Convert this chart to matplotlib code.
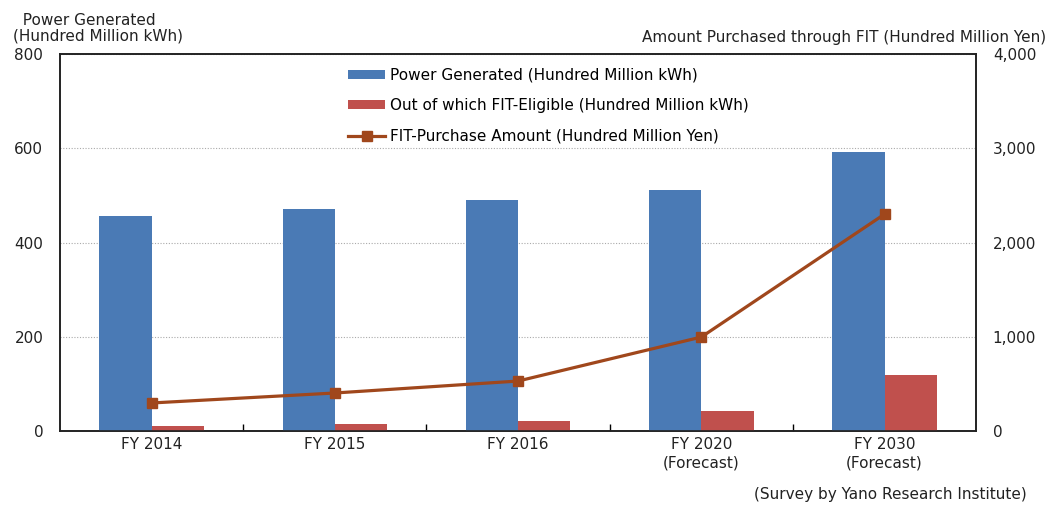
import numpy as np
import matplotlib.pyplot as plt
from matplotlib.ticker import FuncFormatter

categories = ["FY 2014", "FY 2015", "FY 2016", "FY 2020\n(Forecast)", "FY 2030\n(Forecast)"]
power_generated = [456, 471, 490, 512, 592]
fit_eligible = [10, 14, 21, 42, 119]
fit_purchase = [297, 403, 530, 997, 2302]

blue = "#4A7AB5"
red = "#C0504D"
brown = "#A0471C"

plt.rcParams["font.family"] = "DejaVu Sans"
plt.rcParams["font.size"] = 11

fig = plt.figure(figsize=(10.53, 5.07), dpi=100)
ax = fig.add_axes([0.057, 0.150, 0.870, 0.743])
ax2 = ax.twinx()

x = np.arange(len(categories))
w = 0.285
ax.bar(x - w / 2, power_generated, w, color=blue, label="Power Generated (Hundred Million kWh)", zorder=3)
ax.bar(x + w / 2, fit_eligible, w, color=red, label="Out of which FIT-Eligible (Hundred Million kWh)", zorder=3)
ax2.plot(x, fit_purchase, color=brown, lw=2.3, marker="s", markersize=7,
         label="FIT-Purchase Amount (Hundred Million Yen)")

ax.set_xlim(-0.5, len(categories) - 0.5)
ax.set_ylim(0, 800)
ax.set_yticks([0, 200, 400, 600, 800])
ax2.set_ylim(0, 4000)
ax2.set_yticks([0, 1000, 2000, 3000, 4000])
ax2.yaxis.set_major_formatter(FuncFormatter(lambda v, p: f"{int(v):,}"))

ax.grid(axis="y", color="#aaaaaa", linestyle=(0, (1, 1.5)), lw=0.8, zorder=0)
ax.set_xticks(x)
ax.set_xticklabels(categories, color="#222222", linespacing=1.3)
ax.set_xticks(np.arange(0.5, len(categories) - 1, 1), minor=True)
ax.tick_params(axis="x", which="major", length=0, pad=4)
ax.tick_params(axis="x", which="minor", length=5, direction="in", width=1)
ax.tick_params(axis="y", length=0, pad=12, colors="#222222")
ax2.tick_params(axis="y", length=0, pad=12, colors="#222222")

for a in (ax, ax2):
    for s in a.spines.values():
        s.set_linewidth(1.2)
        s.set_color("#222222")

h1, l1 = ax.get_legend_handles_labels()
h2, l2 = ax2.get_legend_handles_labels()
leg = ax.legend(h1 + h2, l1 + l2, loc="upper center", bbox_to_anchor=(0.533, 1.0),
                frameon=False, handlelength=2.4, handleheight=0.5, labelspacing=1.0,
                handletextpad=0.3, fontsize=11)

fig.text(0.012, 0.975, "  Power Generated\n(Hundred Million kWh)", ha="left", va="top",
         fontsize=11, color="#222222", linespacing=1.05)
fig.text(0.993, 0.912, "Amount Purchased through FIT (Hundred Million Yen)", ha="right", va="bottom",
         fontsize=11, color="#222222")
fig.text(0.975, 0.01, "(Survey by Yano Research Institute)", ha="right", va="bottom",
         fontsize=11, color="#222222")

fig.savefig("out.png", dpi=100)
